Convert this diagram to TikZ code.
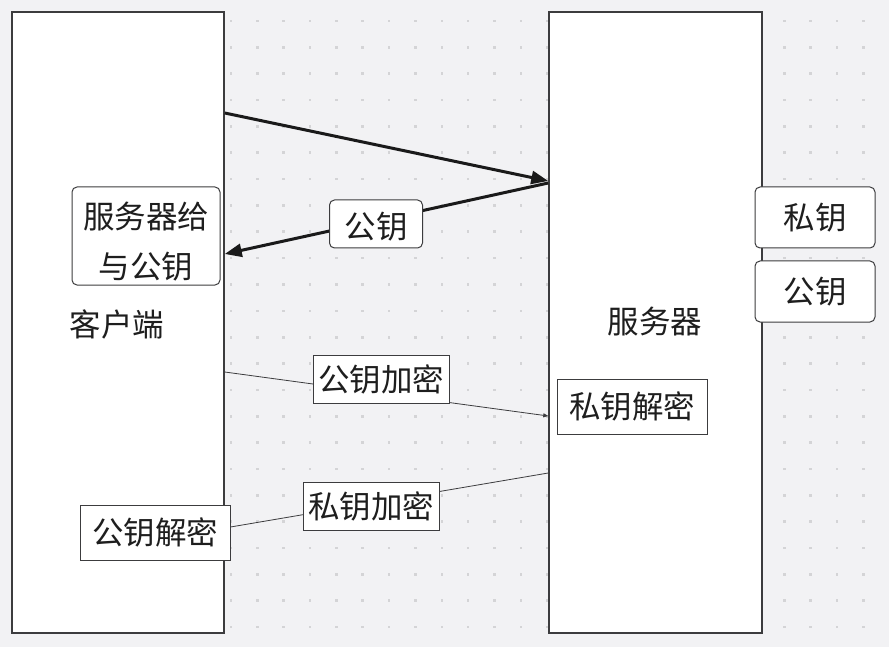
\documentclass[tikz,border=0pt]{standalone}
\usepackage{fontspec}
\setmainfont{Noto Sans CJK SC}
\usetikzlibrary{arrows.meta}
\definecolor{bgc}{RGB}{242,242,244}
\definecolor{dotc}{RGB}{212,212,214}
\definecolor{edgec}{RGB}{60,60,62}
\definecolor{txtc}{RGB}{30,30,30}
\definecolor{arrc}{RGB}{26,26,26}
\begin{document}
\begin{tikzpicture}[x=1pt,y=-1pt,
  txt/.style={text=txtc,font=\fontsize{31.5}{50}\selectfont,inner sep=0pt},
  bigbox/.style={draw=edgec,fill=white,line width=1.5pt,minimum width=212pt,minimum height=621pt,inner sep=0pt},
  rbox/.style={txt,draw=edgec,fill=white,line width=1pt,rounded corners=5pt,align=center},
  sbox/.style={txt,draw=edgec,fill=white,line width=1pt},
  thick arrow/.style={draw=arrc,line width=3pt,-{Triangle[length=17pt,width=13pt]}},
  thin line/.style={draw=edgec,line width=0.8pt}
]
\fill[bgc] (0,0) rectangle (889,647);
\useasboundingbox (0,0) rectangle (889,647);
\foreach \i in {0,...,24}{
  \foreach \j in {0,...,23}{
    \fill[dotc] ({231+26.35*\i-1.3},{21+26.35*\j-1.3}) rectangle +(2.6,2.6);
  }
}
% main boxes
\node[bigbox] (client) at (118,322.5) {};
\node[bigbox,minimum width=213pt] (server) at (655.5,322.5) {};
\node[txt] (clientlbl) at (117,324) {客户端};
\node[txt] (serverlbl) at (655,322) {服务器};
% key boxes
\node[rbox,minimum width=148pt,minimum height=98pt] (give) at (146,236) {};
\node[txt,align=center] (givetxt) at (146,242) {服务器给\\与公钥};
\node[rbox,minimum width=120pt,minimum height=61pt] (priv) at (815,217.5) {私钥};
\node[rbox,minimum width=120pt,minimum height=61pt] (pub) at (815,291.5) {公钥};
\node[sbox,minimum width=150pt,minimum height=55pt] (privdec) at (632,406.5) {私钥解密};
\node[sbox,minimum width=150pt,minimum height=55pt] (pubdec) at (155,532.5) {公钥解密};
% connectors
\coordinate (c1) at (client.east |- 0,113);
\coordinate (s1) at (server.west |- 0,181);
\coordinate (s2) at (server.west |- 0,183);
\coordinate (c2) at (client.east |- 0,254);
\coordinate (c3) at (client.east |- 0,372);
\coordinate (s3) at (server.west |- 0,416);
\coordinate (s4) at (server.west |- 0,473);
\coordinate (d4) at (pubdec.east |- 0,527);
\draw[thick arrow] (c1) -- (s1);
\draw[thick arrow] (s2) -- (c2);
\draw[thin line,-{Triangle[length=5pt,width=4pt]}] (c3) -- (s3);
\draw[thin line] (s4) -- (d4);
% connector labels
\node[rbox,minimum width=93pt,minimum height=48pt] (publbl) at (376,224) {};
\node[txt] (publbltxt) at (376,227) {公钥};
\node[sbox,minimum width=136pt,minimum height=48pt] (enclbl) at (381,379) {公钥加密};
\node[sbox,minimum width=136pt,minimum height=48pt] (senclbl) at (371,506) {私钥加密};
\end{tikzpicture}
\end{document}
